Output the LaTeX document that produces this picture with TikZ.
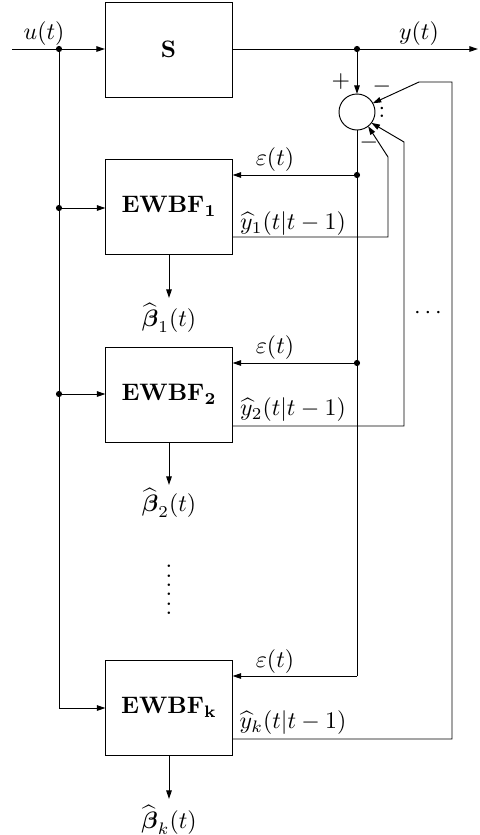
\documentclass[tikz,border=0pt]{standalone}
\usepackage{amsmath,amssymb}
\usetikzlibrary{arrows.meta}
\begin{document}
\begin{tikzpicture}[x=0.42pt,y=-0.42pt,line width=0.4pt,
  blk/.style={draw,rectangle,inner sep=0pt,outer sep=0pt,minimum width={127*0.42pt},minimum height={95*0.42pt}},
  sumc/.style={draw,circle,inner sep=0pt,outer sep=0pt,minimum size={36*0.42pt}},
  arr/.style={-{Triangle[length=3.6pt,width=2.3pt]}},
  lbl/.style={inner sep=0pt},
  dotc/.style={fill,circle,inner sep=0pt,minimum size=2.6pt}]
\useasboundingbox (0,0) rectangle (479,835);
% blocks
\node[blk] (S) at (168.5,49.5) {$\mathbf{S}$};
\node[blk] (e1) at (169,206.5) {$\mathbf{EWBF_1}$};
\node[blk] (e2) at (169,394.5) {$\mathbf{EWBF_2}$};
\node[blk] (ek) at (169,707.5) {$\mathbf{EWBF_k}$};
\node[sumc] (sum) at (357,112) {};
% coordinates
\coordinate (in) at (12,49);
\coordinate (out) at (478,49);
\node[dotc] (ud) at (59,49) {};
\node[dotc] (l1) at (59,208) {};
\node[dotc] (l2) at (59,394) {};
\coordinate (lk) at (59,708);
\node[dotc] (yd) at (357,49) {};
\node[dotc] (d1) at (357,175) {};
\node[dotc] (d2) at (357,363) {};
\coordinate (dk) at (357,676);
% y-hat path corners
\coordinate (a1) at (388,237);
\coordinate (b1c) at (388,157);
\coordinate (a2) at (404,426);
\coordinate (b2c) at (404,142);
\coordinate (ak) at (452,739);
\coordinate (bk) at (452,82);
\coordinate (ck) at (419,82);
% input and output
\draw[arr] (in) -- (S.west |- in);
\draw[arr] (S.east |- out) -- (out);
\draw (ud.center) -- (lk);
\draw[arr] (l1.center) -- (e1.west |- l1);
\draw[arr] (l2.center) -- (e2.west |- l2);
\draw[arr] (lk) -- (ek.west |- lk);
% sum
\draw[arr] (yd.center) -- (sum.north);
\draw (sum.south) -- (dk);
\draw[arr] (d1.center) -- (e1.east |- d1);
\draw[arr] (d2.center) -- (e2.east |- d2);
\draw[arr] (dk) -- (ek.east |- dk);
% feedback of predictions
\draw[arr] (e1.east |- a1) -- (a1) -- (b1c) -- (sum.-52);
\draw[arr] (e2.east |- a2) -- (a2) -- (b2c) -- (sum.-37);
\draw[arr] (ek.east |- ak) -- (ak) -- (bk) -- (ck) -- (sum.29);
% parameter outputs
\node[lbl] (p1) at (169,318) {$\widehat{\boldsymbol{\beta}}_1(t)$};
\node[lbl] (p2) at (169,503) {$\widehat{\boldsymbol{\beta}}_2(t)$};
\node[lbl] (pk) at (169,820) {$\widehat{\boldsymbol{\beta}}_k(t)$};
\draw[arr] (e1.south) -- (169,298);
\draw[arr] (e2.south) -- (169,485);
\draw[arr] (ek.south) -- (169,799);
% labels
\node[lbl] (lu) at (44,34) {$u(t)$};
\node[lbl] (ly) at (419,34) {$y(t)$};
\node[lbl] (pl) at (341,82) {$+$};
\node[lbl] (m1) at (382,87) {$-$};
\node[lbl] (cl) at (382,112) {$:$};
\node[lbl] (m2) at (369,143) {$-$};
\node[lbl] (eps1) at (275,160) {$\varepsilon(t)$};
\node[lbl] (eps2) at (275,348) {$\varepsilon(t)$};
\node[lbl] (epsk) at (275,662) {$\varepsilon(t)$};
\node[lbl] (yh1) at (293,224) {$\widehat{y}_1(t|t-1)$};
\node[lbl] (yh2) at (293,410) {$\widehat{y}_2(t|t-1)$};
\node[lbl] (yhk) at (293,723) {$\widehat{y}_k(t|t-1)$};
\node[lbl] (hd) at (430,313) {$\cdots$};
\node[lbl] (vd1) at (169,569) {$\vdots$};
\node[lbl] (vd2) at (169,597) {$\vdots$};
\end{tikzpicture}
\end{document}
